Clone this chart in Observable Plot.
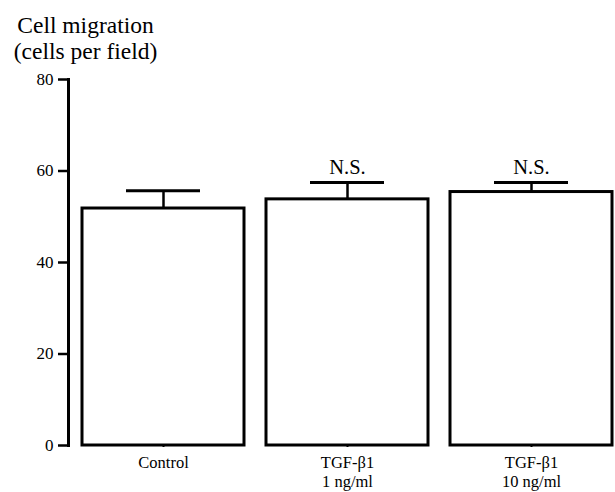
<!DOCTYPE html>
<html>
<head>
<meta charset="utf-8">
<script src="https://cdn.jsdelivr.net/npm/d3@7"></script>
<script src="https://cdn.jsdelivr.net/npm/@observablehq/plot@0.6"></script>
<style>
  html, body { margin: 0; padding: 0; background: #fff; }
  #chart { width: 615px; height: 492px; overflow: hidden; }
</style>
</head>
<body>
<div id="chart"></div>
<script>
const categories = ["Control", "TGF-β1\n1 ng/ml", "TGF-β1\n10 ng/ml"];
const means = [51.8, 53.8, 55.4];
const errors = [3.9, 3.7, 2.1];
const significance = ["", "N.S.", "N.S."];
const yTicks = [0, 20, 40, 60, 80];
const yTitle = "Cell migration\n(cells per field)";

const data = categories.map((c, i) => ({
  category: c, mean: means[i], err: errors[i], top: means[i] + errors[i], sig: significance[i]
}));

const font = "Liberation Serif, Times New Roman, serif";

const chart = Plot.plot({
  width: 615,
  height: 492,
  marginLeft: 68,
  marginRight: 0,
  marginTop: 79,
  marginBottom: 47,
  style: { fontFamily: font, background: "#fff", color: "#000", overflow: "visible" },
  x: { domain: categories, range: [68, 626], paddingInner: 0.12, paddingOuter: 0.076 },
  y: { domain: [0, 80] },
  marks: [
    Plot.axisY({ ticks: yTicks, tickSize: 10, tickPadding: 5, strokeWidth: 2.5, fontSize: 17, fontFamily: font, label: null }),
    Plot.axisX({ tickSize: 2, tickPadding: 7, strokeWidth: 2, fontSize: 16.5, fontFamily: font, label: null, lineHeight: 1.15 }),
    Plot.frame({ anchor: "left", strokeWidth: 3 }),
    Plot.ruleX(data, { x: "category", y1: "mean", y2: "top", strokeWidth: 2.5 }),
    Plot.tickY(data, { x: "category", y: "top", strokeWidth: 3, insetLeft: 44, insetRight: 44 }),
    Plot.barY(data, { x: "category", y: "mean", fill: "#fff", stroke: "#000", strokeWidth: 3 }),
    Plot.text(data, { x: "category", y: "top", text: "sig", lineAnchor: "bottom", dy: -8, fontSize: 20.5, fontFamily: font }),
    Plot.text([yTitle], { frameAnchor: "top-left", text: d => d, textAnchor: "middle", lineAnchor: "top", dx: 17, dy: -65, fontSize: 23.5, lineHeight: 1.1, fontFamily: font })
  ]
});
document.getElementById("chart").appendChild(chart);
</script>
</body>
</html>
